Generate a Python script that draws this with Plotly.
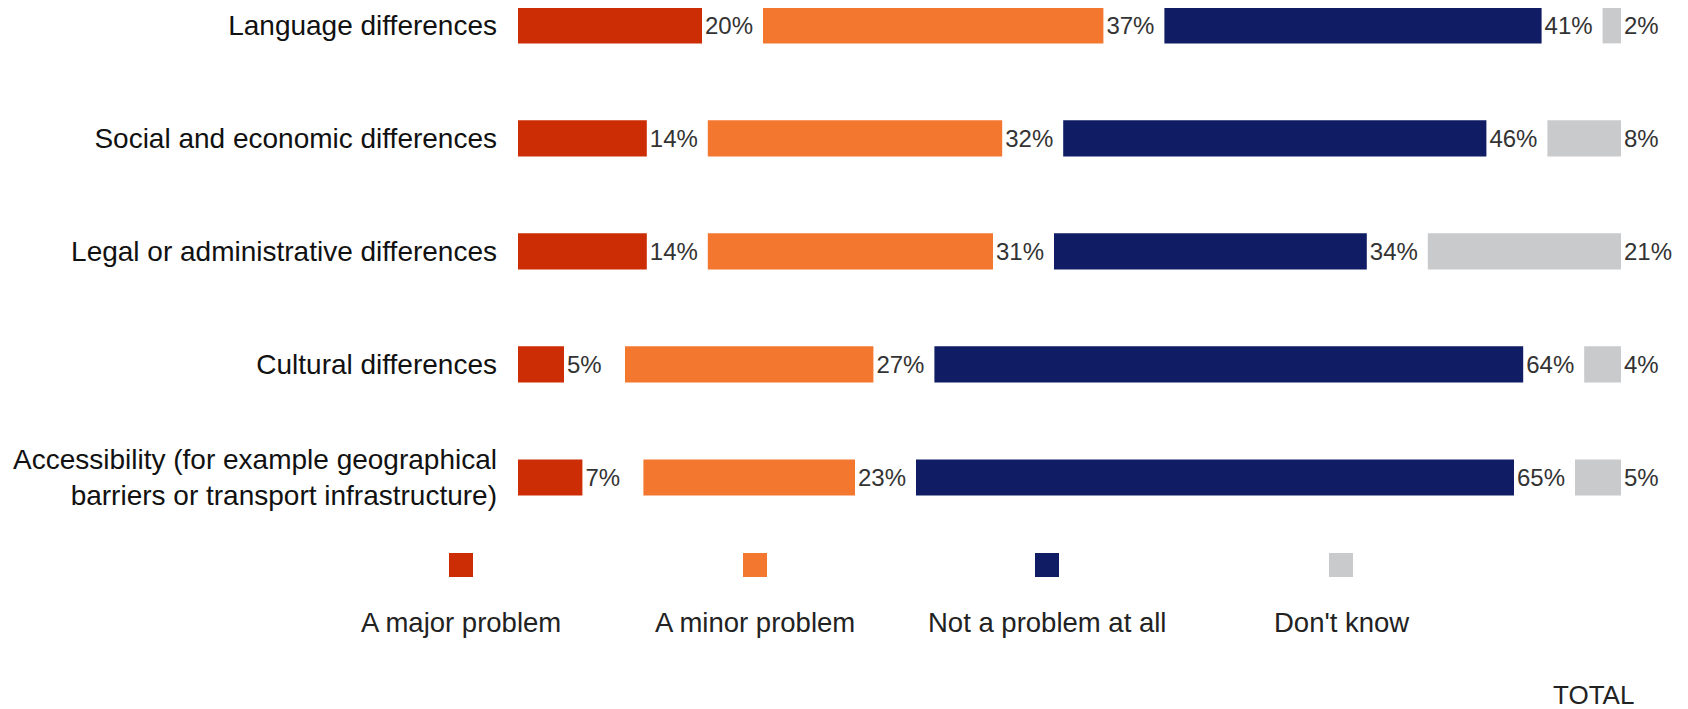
import plotly.graph_objects as go

categories = [
    "Language differences",
    "Social and economic differences",
    "Legal or administrative differences",
    "Cultural differences",
    "Accessibility (for example geographical<br>barriers or transport infrastructure)",
]
series_names = ["A major problem", "A minor problem", "Not a problem at all", "Don't know"]
major = [20, 14, 14, 5, 7]
minor = [37, 32, 31, 27, 23]
not_problem = [41, 46, 34, 64, 65]
dont_know = [2, 8, 21, 4, 5]
colors = ["#CC2D05", "#F47730", "#101C64", "#C9CACC"]

series = [major, minor, not_problem, dont_know]
GAP = 6.63  # blank space (in % units) left after each segment for its label

OFF = 8  # page body margin
W, H = 1688 - OFF, 709 - OFF
L, R, T, B = 510, 67, 0, 175
pw, ph = W - L - R, H - T - B

def px2x(px):  # page pixel -> paper x
    return (px - OFF - L) / pw

def py2y(py):  # page pixel -> paper y
    return 1 - (py - OFF - T) / ph

fig = go.Figure()
running = [0.0] * len(categories)
for k, (name, vals, col) in enumerate(zip(series_names, series, colors)):
    base = [running[i] + k * GAP for i in range(len(categories))]
    fig.add_trace(go.Bar(
        y=categories, x=vals, base=base, orientation="h", name=name,
        width=0.32, marker=dict(color=col, line=dict(width=0)),
        text=[f"{v}%" for v in vals], textposition="outside",
        textfont=dict(family="Liberation Sans, Arial", size=24, color="#333333"),
        cliponaxis=False, constraintext="none", showlegend=False,
    ))
    running = [running[i] + vals[i] for i in range(len(categories))]

shapes = []
annotations = []
leg_x = [461, 755, 1047, 1341]
for name, col, cx in zip(series_names, colors, leg_x):
    shapes.append(dict(type="rect", xref="paper", yref="paper",
                       x0=px2x(cx - 12), x1=px2x(cx + 12),
                       y0=py2y(577), y1=py2y(553),
                       fillcolor=col, line=dict(width=0)))
    annotations.append(dict(text=name, xref="paper", yref="paper",
                            x=px2x(cx), y=py2y(622), xanchor="center", yanchor="middle",
                            showarrow=False,
                            font=dict(family="Liberation Sans, Arial", size=27.5, color="#222222")))
annotations.append(dict(text="TOTAL", xref="paper", yref="paper",
                        x=px2x(1593), y=py2y(695), xanchor="center", yanchor="middle",
                        showarrow=False,
                        font=dict(family="Liberation Sans, Arial", size=26, color="#222222")))

fig.update_layout(
    width=W, height=H, margin=dict(l=L, r=R, t=T, b=B),
    barmode="overlay", plot_bgcolor="white", paper_bgcolor="white",
    shapes=shapes, annotations=annotations,
    xaxis=dict(visible=False, range=[0, 100 + 3 * GAP], fixedrange=True),
    yaxis=dict(type="category", categoryorder="array", categoryarray=categories,
               range=[4.5, -0.153], showgrid=False, showline=False, zeroline=False,
               ticks="", ticklabelstandoff=20,
               tickfont=dict(family="Liberation Sans, Arial", size=28, color="#111111")),
    showlegend=False,
)

fig.write_html("out.html")
